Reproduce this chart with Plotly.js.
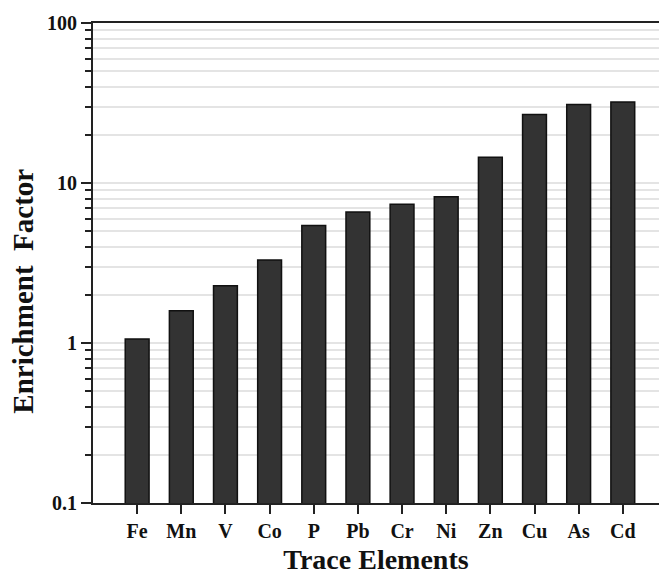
<!DOCTYPE html>
<html>
<head>
<meta charset="utf-8">
<script src="https://cdn.plot.ly/plotly-3.0.1.min.js"></script>
<style>
  html, body { margin: 0; padding: 0; background: #fff; }
  #chart { width: 659px; height: 576px; }
</style>
</head>
<body>
<div id="chart"></div>
<script>
// Enrichment factor per trace element (log scale)
const elements = ["Fe", "Mn", "V", "Co", "P", "Pb", "Cr", "Ni", "Zn", "Cu", "As", "Cd"];
const enrichment = [1.06, 1.59, 2.28, 3.30, 5.42, 6.59, 7.36, 8.19, 14.5, 26.8, 30.9, 32.1];
const yTickVals = [0.1, 1, 10, 100];
const yTickText = ["0.1", "1", "10", "100"];

const serif = "Liberation Serif, Times New Roman, serif";
const gridColor = "#e4e4e4";
const axisColor = "#222";

const trace = {
  type: "bar",
  x: elements.map((_, i) => i),
  y: enrichment,
  width: 0.54,
  marker: { color: "#333333", line: { color: "#111", width: 1.5 } },
  hoverinfo: "x+y"
};

const layout = {
  width: 659,
  height: 576,
  margin: { l: 93, r: 0, t: 23, b: 73 },
  paper_bgcolor: "#fff",
  plot_bgcolor: "#fff",
  showlegend: false,
  bargap: 0,
  xaxis: {
    range: [-1, 11.82],
    tickvals: elements.map((_, i) => i),
    ticktext: elements,
    showgrid: false,
    zeroline: false,
    showline: true,
    linecolor: axisColor,
    linewidth: 2,
    mirror: true,
    ticks: "outside",
    ticklen: 9,
    tickwidth: 2,
    tickcolor: axisColor,
    tickfont: { family: serif, size: 20, weight: "bold", color: "#111" },
    title: {
      text: "Trace Elements",
      font: { family: serif, size: 28, weight: "bold", color: "#111" },
      standoff: 8
    }
  },
  yaxis: {
    type: "log",
    range: [-1, 2],
    tickvals: yTickVals,
    ticktext: yTickText,
    showgrid: true,
    gridcolor: gridColor,
    gridwidth: 2,
    zeroline: false,
    showline: true,
    linecolor: axisColor,
    linewidth: 2,
    ticks: "outside",
    ticklen: 10,
    tickwidth: 2,
    tickcolor: axisColor,
    tickfont: { family: serif, size: 20, weight: "bold", color: "#111" },
    minor: {
      dtick: "D1",
      ticks: "outside",
      ticklen: 6,
      tickwidth: 2,
      tickcolor: axisColor,
      showgrid: true,
      gridcolor: gridColor,
      gridwidth: 2
    }
  },
  annotations: [{
    text: "Enrichment  Factor",
    textangle: -90,
    xref: "paper", yref: "paper",
    x: -0.124, y: 0.442,
    xanchor: "center", yanchor: "middle",
    showarrow: false,
    font: { family: serif, size: 29, weight: "bold", color: "#111" }
  }]
};

Plotly.newPlot("chart", [trace], layout, { displayModeBar: false, staticPlot: true });
</script>
</body>
</html>
